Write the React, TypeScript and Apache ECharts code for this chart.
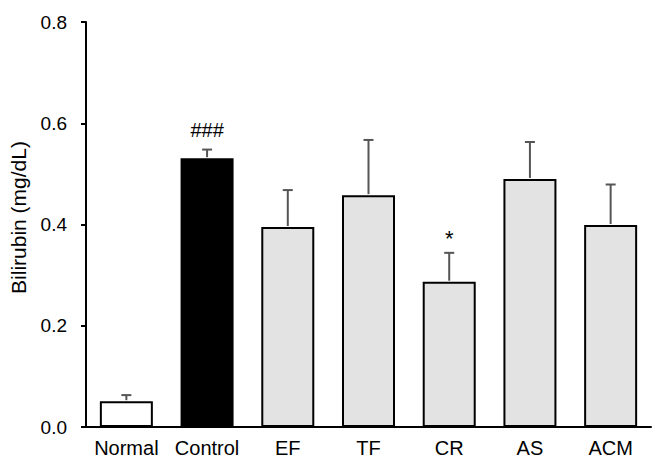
import React, { useEffect, useRef } from "react";
import * as echarts from "echarts";

const categories = ["Normal", "Control", "EF", "TF", "CR", "AS", "ACM"];
const means = [0.051, 0.531, 0.395, 0.458, 0.287, 0.49, 0.399];
const errors = [0.012, 0.017, 0.073, 0.109, 0.057, 0.073, 0.08];
const sigLabels = ["", "###", "", "", "*", "", ""];
const fillColors = ["#ffffff", "#000000", "#e3e3e3", "#e3e3e3", "#e3e3e3", "#e3e3e3", "#e3e3e3"];

const FONT = "Arial, 'Liberation Sans', sans-serif";

export default function App() {
  const ref = useRef<HTMLDivElement>(null);
  useEffect(() => {
    if (!ref.current) return;
    const chart = echarts.init(ref.current, null, { renderer: "svg" });
    chart.setOption({
      animation: false,
      backgroundColor: "#ffffff",
      textStyle: { fontFamily: FONT },
      grid: { left: 83, right: 9, top: 22, bottom: 41, containLabel: false },
      xAxis: {
        type: "category",
        data: categories,
        axisLine: { lineStyle: { color: "#000", width: 2 } },
        axisTick: { show: false },
        axisLabel: { color: "#000", fontSize: 20, margin: 11, fontFamily: FONT, interval: 0, hideOverlap: false },
      },
      yAxis: {
        type: "value",
        min: 0,
        max: 0.8,
        interval: 0.2,
        name: "Bilirubin (mg/dL)",
        nameLocation: "middle",
        nameGap: 57,
        nameTextStyle: { color: "#000", fontSize: 21, fontFamily: FONT, padding: [0, 0, 0, 14] },
        axisLine: { show: true, lineStyle: { color: "#000", width: 2 } },
        axisTick: { show: true, length: 5, lineStyle: { color: "#000", width: 2 } },
        splitLine: { show: false },
        axisLabel: {
          color: "#000",
          fontSize: 19,
          margin: 19,
          fontFamily: FONT,
          formatter: (v: number) => v.toFixed(1),
        },
      },
      series: [
        {
          type: "bar",
          barWidth: 53,
          data: means.map((m, i) => ({
            value: m,
            itemStyle: { color: fillColors[i], borderColor: "#000", borderWidth: 2 },
          })),
        },
        {
          type: "custom",
          z: 3,
          data: means.map((m, i) => [i, m, errors[i]]),
          renderItem: (params: any, api: any) => {
            const idx = api.value(0);
            const m = api.value(1);
            const e = api.value(2);
            const base = api.coord([idx, m]);
            const top = api.coord([idx, m + e]);
            const capHalf = 5;
            const children: any[] = [
              {
                type: "line",
                shape: { x1: base[0], y1: base[1] - 1, x2: top[0], y2: top[1] },
                style: { stroke: "#555", lineWidth: 2 },
              },
              {
                type: "line",
                shape: { x1: top[0] - capHalf, y1: top[1], x2: top[0] + capHalf, y2: top[1] },
                style: { stroke: "#555", lineWidth: 2 },
              },
            ];
            const lab = sigLabels[params.dataIndex];
            if (lab) {
              const off = lab === "*" ? 3 : 10;
              children.push({
                type: "text",
                x: top[0],
                y: top[1] - off,
                style: {
                  text: lab,
                  fill: "#000",
                  font: lab === "*" ? `22px ${FONT}` : `20px ${FONT}`,
                  textAlign: "center",
                  textVerticalAlign: "bottom",
                },
              });
            }
            return { type: "group", children };
          },
        },
      ],
    });
    return () => chart.dispose();
  }, []);
  return <div ref={ref} style={{ position: "fixed", left: 0, top: 0, width: 660, height: 468 }} />;
}
